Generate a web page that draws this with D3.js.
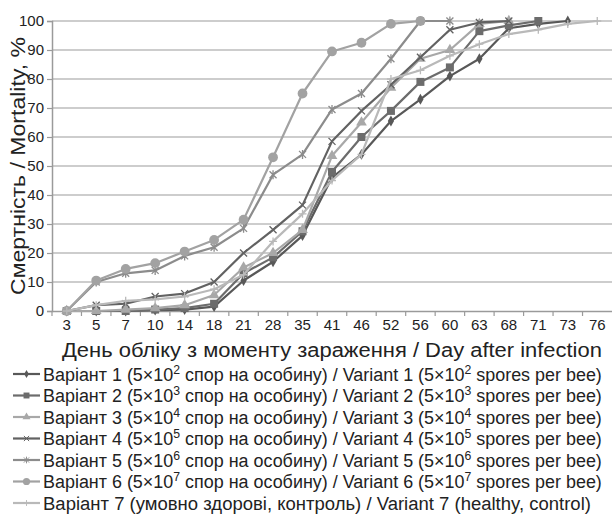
<!DOCTYPE html>
<html>
<head>
<meta charset="utf-8">
<script src="https://cdn.jsdelivr.net/npm/d3@7"></script>
<style>
  body { margin: 0; background: #fff; }
  svg text { font-family: "Liberation Sans Narrow", "Arial Narrow", "Liberation Sans", Arial, sans-serif; fill: #222; }
</style>
</head>
<body>
<svg width="612" height="515"></svg>
<script>
// days after infection (categories)
var days = [3, 5, 7, 10, 14, 18, 21, 28, 35, 41, 46, 52, 56, 60, 63, 68, 71, 73, 76];
var yTicks = [0, 10, 20, 30, 40, 50, 60, 70, 80, 90, 100];

// mortality, % (series stop once they reach 100)
var v1 = [0, 0, 0, 0.3, 0.5, 1.5, 10.5, 17, 26, 46, 54, 65.5, 73, 81, 87, 97.5, 99, 100];
var v2 = [0, 0, 0, 0.5, 1, 2.5, 13, 18.5, 27.5, 48, 60, 69, 79, 84, 96.5, 98.5, 100];
var v3 = [0, 0, 0.5, 1, 2, 5.5, 15, 20, 28, 53.5, 65, 77, 87, 90, 99, 100];
var v4 = [0, 2, 2.5, 5, 6, 10, 20, 28, 36.5, 58.5, 69, 78, 87.5, 97, 99.5, 100];
var v5 = [0, 10, 13, 14, 19, 22, 28.5, 47, 54, 69.5, 75, 87, 100, 100];
var v6 = [0, 10.5, 14.5, 16.5, 20.5, 24.5, 31.5, 53, 75, 89.5, 92.5, 99, 100];
var v7 = [0, 2, 3.5, 4, 5, 7.5, 12.5, 24, 33.5, 45, 54, 80, 83, 88, 92, 95.5, 97, 99, 100];

var ukr = ["Варіант 1 (5×10", "Варіант 2 (5×10", "Варіант 3 (5×10", "Варіант 4 (5×10",
           "Варіант 5 (5×10", "Варіант 6 (5×10", "Варіант 7 (умовно здорові, контроль) / Variant 7 (healthy, control)"];
var powers = ["2", "3", "4", "5", "6", "7", null];

var svg = d3.select("svg");

var series = [
  { values: v1, color: "#585858", marker: "diamond" },
  { values: v2, color: "#6c6c6c", marker: "square" },
  { values: v3, color: "#a8a8a8", marker: "triangle" },
  { values: v4, color: "#626262", marker: "times" },
  { values: v5, color: "#8c8c8c", marker: "asterisk" },
  { values: v6, color: "#a2a2a2", marker: "circle" },
  { values: v7, color: "#b9b9b9", marker: "plus" }
];

var plotLeft = 52, plotRight = 612, plotTop = 21, plotBottom = 311;

var x = d3.scaleBand().domain(days).range([plotLeft, plotRight]).paddingInner(0).paddingOuter(0);
var y = d3.scaleLinear().domain([0, 100]).range([plotBottom, plotTop]);

function cx(d) { return x(d) + x.bandwidth() / 2; }

// fit a text group horizontally to the wanted width (narrow font look)
function squeeze(g, px, py, width) {
  var w = g.node().getBBox().width;
  var k = width / w;
  g.attr("transform", "translate(" + px + "," + py + ") scale(" + k + ",1)");
}

// grid
svg.append("g")
  .selectAll("line")
  .data(yTicks.slice(1))
  .enter().append("line")
  .attr("x1", plotLeft).attr("x2", plotRight)
  .attr("y1", function (d) { return y(d); })
  .attr("y2", function (d) { return y(d); })
  .attr("stroke", "#bdbdbd")
  .attr("stroke-width", 1.6);

// y axis
var yAxis = svg.append("g")
  .attr("transform", "translate(" + plotLeft + ",0)")
  .call(d3.axisLeft(y).tickValues(yTicks).tickSize(5).tickPadding(3));
yAxis.select(".domain").attr("stroke", "#9a9a9a").attr("stroke-width", 1.5);
yAxis.selectAll(".tick line").attr("stroke", "#9a9a9a").attr("stroke-width", 1.2);
yAxis.selectAll("text").attr("font-size", 15).attr("fill", "#222");

// x axis, ticks sit between the categories
var xAxis = svg.append("g")
  .attr("transform", "translate(0," + plotBottom + ")")
  .call(d3.axisBottom(x).tickSize(0).tickPadding(8));
xAxis.select(".domain").attr("stroke", "#9a9a9a").attr("stroke-width", 1.5);
xAxis.selectAll("text").attr("font-size", 15).attr("fill", "#222");
svg.append("g")
  .selectAll("line")
  .data(days)
  .enter().append("line")
  .attr("x1", function (d) { return x(d); })
  .attr("x2", function (d) { return x(d); })
  .attr("y1", plotBottom).attr("y2", plotBottom + 5)
  .attr("stroke", "#9a9a9a").attr("stroke-width", 1.2);

// axis titles
svg.append("text")
  .attr("transform", "translate(25,166) rotate(-90)")
  .attr("text-anchor", "middle")
  .attr("font-size", 21)
  .attr("textLength", 258).attr("lengthAdjust", "spacingAndGlyphs")
  .text("Смертність / Mortality, %");

var xt = svg.append("g");
xt.append("text").attr("font-size", 21).text("День обліку з моменту зараження / Day after infection");
squeeze(xt, 62, 357, 540);

// markers
var timesPath = "M-3.5,-3.5L3.5,3.5M-3.5,3.5L3.5,-3.5";
var plusPath = "M-4,0L4,0M0,-4L0,4";
var asteriskPath = "M-3.5,-3.5L3.5,3.5M-3.5,3.5L3.5,-3.5M0,-4.5L0,4.5";

function drawMarker(g, type, color, s) {
  s = s || 1;
  if (type == "diamond") {
    g.append("path").attr("d", d3.symbol().type(d3.symbolDiamond).size(34 * s)).attr("fill", color);
  } else if (type == "square") {
    g.append("path").attr("d", d3.symbol().type(d3.symbolSquare).size(64 * s)).attr("fill", color);
  } else if (type == "triangle") {
    g.append("path").attr("d", d3.symbol().type(d3.symbolTriangle).size(50 * s)).attr("fill", color);
  } else if (type == "circle") {
    g.append("path").attr("d", d3.symbol().type(d3.symbolCircle).size(75 * s)).attr("fill", color);
  } else {
    var p = type == "times" ? timesPath : (type == "plus" ? plusPath : asteriskPath);
    g.append("path").attr("d", p).attr("fill", "none").attr("stroke", color)
      .attr("stroke-width", 1.3).attr("transform", "scale(" + Math.sqrt(s) + ")");
  }
}

var line = d3.line()
  .x(function (d) { return cx(d.day); })
  .y(function (d) { return y(d.v); });

series.forEach(function (s) {
  var pts = s.values.map(function (v, i) { return { day: days[i], v: v }; });
  svg.append("path")
    .datum(pts)
    .attr("d", line)
    .attr("fill", "none")
    .attr("stroke", s.color)
    .attr("stroke-width", 2.2)
    .attr("stroke-linejoin", "round");
  pts.forEach(function (p) {
    var g = svg.append("g").attr("transform", "translate(" + cx(p.day) + "," + y(p.v) + ")");
    drawMarker(g, s.marker, s.color, 1);
  });
});

// legend
var legend = svg.append("g");
series.forEach(function (s, i) {
  var yy = 374 + i * 21.5;
  legend.append("line")
    .attr("x1", 13).attr("x2", 40).attr("y1", yy).attr("y2", yy)
    .attr("stroke", s.color).attr("stroke-width", 2.2);
  var g = legend.append("g").attr("transform", "translate(26.5," + yy + ")");
  drawMarker(g, s.marker, s.color, 0.55);

  var tg = legend.append("g");
  var t = tg.append("text").attr("font-size", 19);
  if (powers[i]) {
    t.append("tspan").text(ukr[i]);
    t.append("tspan").attr("dy", -7).attr("font-size", 13).text(powers[i]);
    t.append("tspan").attr("dy", 7).text(" спор на особину) / Variant " + (i + 1) + " (5×10");
    t.append("tspan").attr("dy", -7).attr("font-size", 13).text(powers[i]);
    t.append("tspan").attr("dy", 7).text(" spores per bee)");
    squeeze(tg, 43, yy + 6.5, 559);
  } else {
    t.text(ukr[i]);
    squeeze(tg, 43, yy + 6.5, 548);
  }
});
</script>
</body>
</html>
